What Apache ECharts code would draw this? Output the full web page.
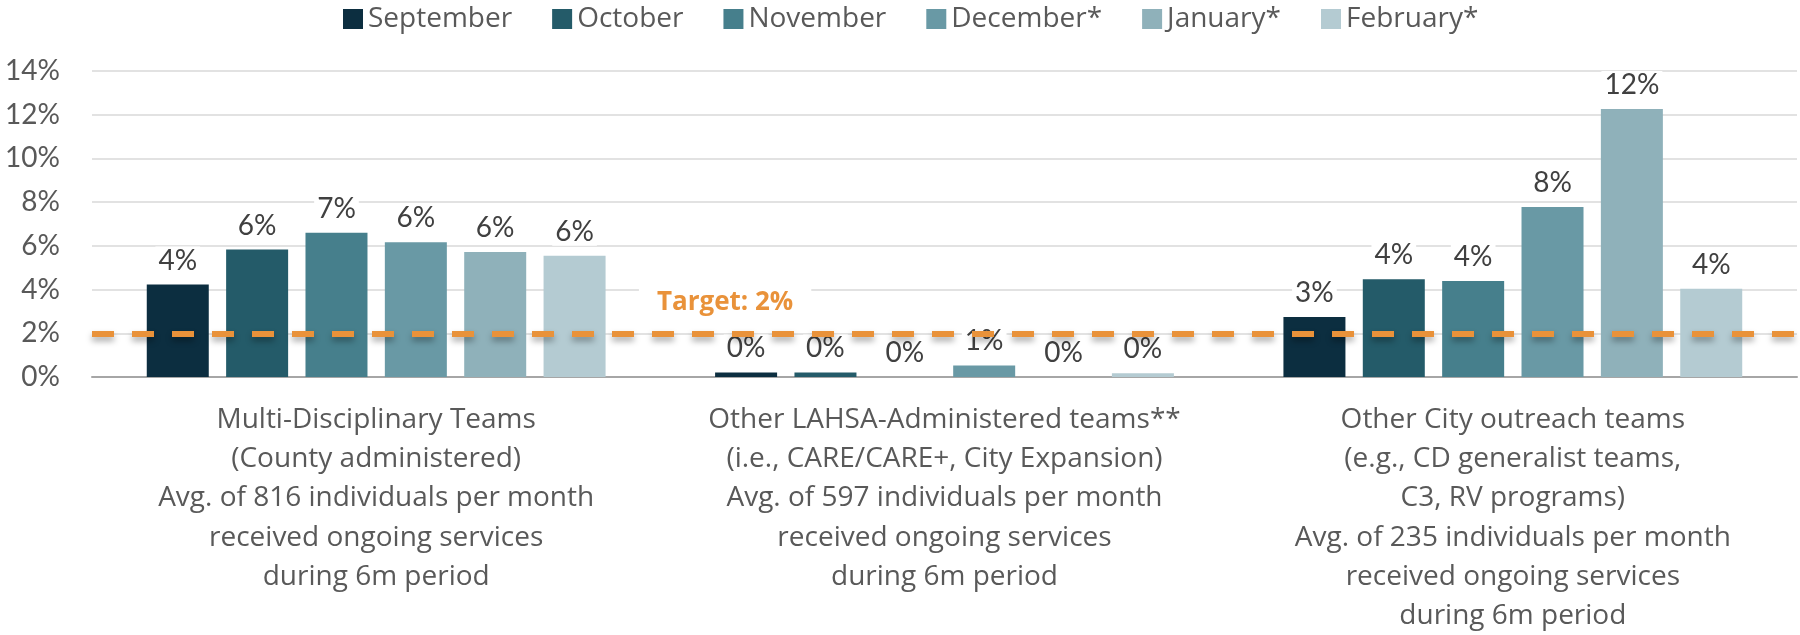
<!DOCTYPE html>
<html>
<head>
<meta charset="utf-8">
<script src="https://cdn.jsdelivr.net/npm/echarts@6/dist/echarts.min.js"></script>
<style>
  html, body { margin: 0; padding: 0; background: #fff; }
  #chart { width: 1800px; height: 635px; }
</style>
</head>
<body>
<div id="chart"></div>
<script>
// months (series) and team groups (categories)
let months = ['September', 'October', 'November', 'December*', 'January*', 'February*'];
let colors = ['#0C2E40', '#245B69', '#467F8C', '#6999A5', '#8FB1BA', '#B4CBD2'];
let teams = [
    'Multi-Disciplinary Teams\n(County administered)\nAvg. of 816 individuals per month\nreceived ongoing services\nduring 6m period',
    'Other LAHSA-Administered teams**\n(i.e., CARE/CARE+, City Expansion)\nAvg. of 597 individuals per month\nreceived ongoing services\nduring 6m period',
    'Other City outreach teams\n(e.g., CD generalist teams,\nC3, RV programs)\nAvg. of 235 individuals per month\nreceived ongoing services\nduring 6m period'
];

// percent values, one array per month: [MDT, LAHSA, City]
let september = [4.23, 0.21, 2.74];
let october   = [5.83, 0.21, 4.47];
let november  = [6.60, 0, 4.39];
let december  = [6.16, 0.53, 7.78];
let january   = [5.72, 0, 12.26];
let february  = [5.55, 0.17, 4.04];
let values = [september, october, november, december, january, february];

let target = 2;
let targetText = 'Target: 2%';

let myChart = echarts.init(document.getElementById('chart'));

let font = '"Open Sans", Lato, sans-serif';
let numFont = 'Lato, "Open Sans", sans-serif';

myChart.setOption({
    animation: false,
    textStyle: { fontFamily: font },
    legend: {
        data: months,
        left: 338,
        top: 0,
        icon: 'rect',
        itemWidth: 20,
        itemHeight: 20,
        itemGap: 40,
        textStyle: { fontSize: 28, color: '#595959', fontFamily: font }
    },
    grid: { left: 92, right: 3, top: 71, bottom: 258, outerBoundsMode: 'none', containLabel: false },
    xAxis: {
        type: 'category',
        data: teams,
        axisTick: { show: false },
        axisLine: { lineStyle: { color: '#A6A6A6', width: 2 } },
        axisLabel: {
            interval: 0,
            margin: 23,
            fontSize: 28,
            lineHeight: 39.3,
            color: '#595959',
            fontFamily: font
        }
    },
    yAxis: {
        type: 'value',
        min: 0,
        max: 14,
        interval: 2,
        axisLine: { show: false },
        axisTick: { show: false },
        splitLine: { lineStyle: { color: '#D9D9D9', width: 1.5 } },
        axisLabel: {
            formatter: '{value}%',
            fontSize: 28,
            color: '#595959',
            margin: 32,
            fontFamily: numFont
        }
    },
    series: (function(){
        let series = [];
        months.forEach((name, i) => {
            let s = {
                name: name,
                type: 'bar',
                barWidth: 62,
                barGap: '28%',
                itemStyle: { color: colors[i] },
                label: {
                    show: true,
                    position: 'top',
                    distance: 10,
                    fontSize: 28,
                    color: '#404040',
                    fontFamily: numFont,
                    backgroundColor: '#fff',
                    padding: [0, 3],
                    formatter: p => Math.round(p.value) + '%'
                },
                data: values[i]
            };
            if (i === 0) {
                s.markLine = {
                    silent: true,
                    symbol: 'none',
                    z: 10,
                    label: { show: false },
                    lineStyle: {
                        color: '#E9923A',
                        width: 6,
                        type: [22, 18],
                        shadowColor: 'rgba(0,0,0,0.35)',
                        shadowBlur: 6,
                        shadowOffsetY: 4
                    },
                    data: [{ yAxis: target }]
                };
                // label sits left of the group 2 september bar
                s.markPoint = {
                    silent: true,
                    symbol: 'rect',
                    symbolSize: 0,
                    z: 11,
                    label: {
                        show: true,
                        position: 'inside',
                        offset: [-21, -31],
                        formatter: targetText,
                        fontSize: 26,
                        fontWeight: 'bold',
                        color: '#E9923A',
                        fontFamily: font,
                        backgroundColor: '#fff',
                        padding: [2, 18]
                    },
                    data: [{ coord: [1, target] }]
                };
            }
            series.push(s);
        });
        return series;
    })()
});
</script>
</body>
</html>
